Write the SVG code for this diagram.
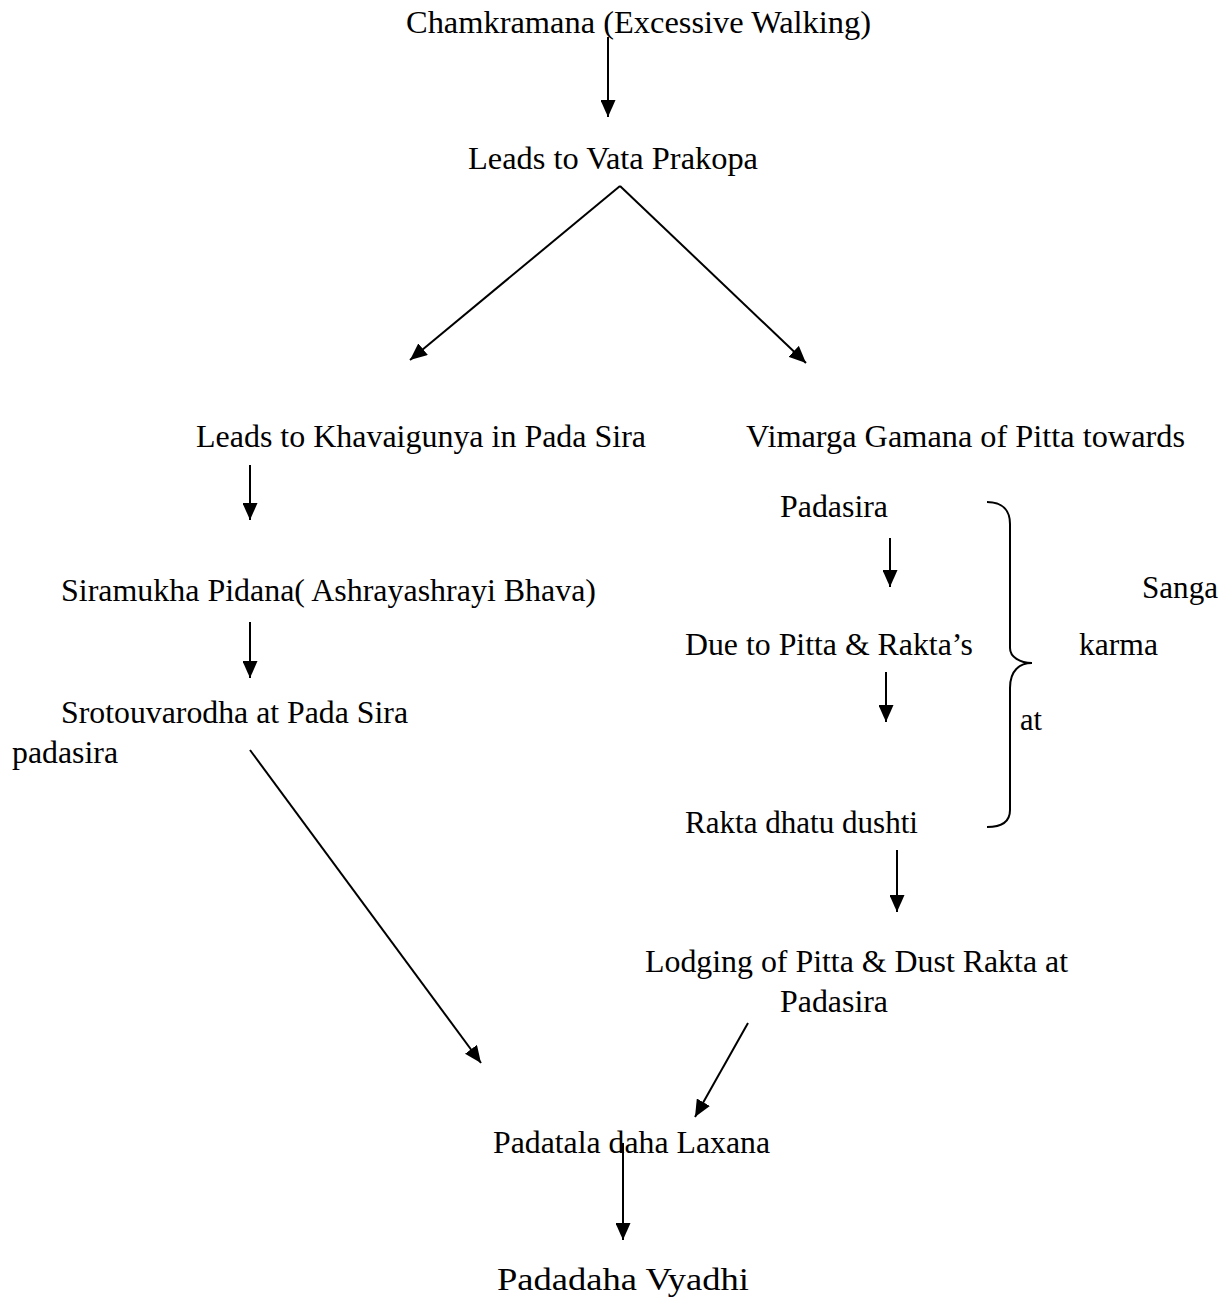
<svg xmlns="http://www.w3.org/2000/svg" width="1228" height="1301" viewBox="0 0 1228 1301">
<defs>
<style>
text{font-family:"Liberation Serif","Times New Roman",serif;font-size:32px;fill:#000}
.c{stroke:#000;stroke-width:2;fill:none}
.a{marker-end:url(#ah)}
</style>
<marker id="ah" markerUnits="userSpaceOnUse" markerWidth="17" markerHeight="15" refX="17" refY="7.5" orient="auto" viewBox="0 0 17 15">
<path d="M0,0 L17,7.5 L0,15 z" fill="#000"/>
</marker>
</defs>
<rect width="1228" height="1301" fill="#fff"/>
<g id="connectors">
<line class="c a" x1="608" y1="37" x2="608" y2="117"/>
<line class="c a" x1="620" y1="186" x2="410" y2="360"/>
<line class="c a" x1="620" y1="186" x2="806" y2="363"/>
<line class="c a" x1="250" y1="465" x2="250" y2="520"/>
<line class="c a" x1="250" y1="622" x2="250" y2="678"/>
<line class="c a" x1="890" y1="538" x2="890" y2="587"/>
<line class="c a" x1="886" y1="672" x2="886" y2="722"/>
<line class="c a" x1="250" y1="750" x2="481" y2="1063"/>
<line class="c a" x1="897" y1="850" x2="897" y2="912"/>
<line class="c a" x1="748" y1="1023" x2="695" y2="1117"/>
<line class="c a" x1="623" y1="1143" x2="623" y2="1240"/>
<path class="c" d="M987,502 C1002,502 1010,510 1010,524 L1010,648 C1010,657 1020,663 1032,663 C1020,663 1010,670 1010,688 L1010,810 C1010,821 1002,827 987,827"/>
</g>
<g id="n1"><text x="406" y="33" textLength="465" lengthAdjust="spacingAndGlyphs">Chamkramana (Excessive Walking)</text></g>
<g id="n2"><text x="468" y="169" textLength="290" lengthAdjust="spacingAndGlyphs">Leads to Vata Prakopa</text></g>
<g id="n3"><text x="196" y="447" textLength="450" lengthAdjust="spacingAndGlyphs">Leads to Khavaigunya in Pada Sira</text></g>
<g id="n4"><text x="746" y="447" textLength="439" lengthAdjust="spacingAndGlyphs">Vimarga Gamana of Pitta towards</text></g>
<g id="n5"><text x="780" y="517" textLength="108" lengthAdjust="spacingAndGlyphs">Padasira</text></g>
<g id="n6"><text x="61" y="601" textLength="535" lengthAdjust="spacingAndGlyphs">Siramukha Pidana( Ashrayashrayi Bhava)</text></g>
<g id="n7"><text x="1142" y="598" textLength="76" lengthAdjust="spacingAndGlyphs">Sanga</text></g>
<g id="n8"><text x="685" y="655" textLength="288" lengthAdjust="spacingAndGlyphs">Due to Pitta &amp; Rakta’s</text></g>
<g id="n9"><text x="1079" y="655" textLength="79" lengthAdjust="spacingAndGlyphs">karma</text></g>
<g id="n10"><text x="61" y="723" textLength="347" lengthAdjust="spacingAndGlyphs">Srotouvarodha at Pada Sira</text></g>
<g id="n11"><text x="1020" y="730" textLength="22" lengthAdjust="spacingAndGlyphs">at</text></g>
<g id="n12"><text x="12" y="763" textLength="106" lengthAdjust="spacingAndGlyphs">padasira</text></g>
<g id="n13"><text x="685" y="833" textLength="233" lengthAdjust="spacingAndGlyphs">Rakta dhatu dushti</text></g>
<g id="n14"><text x="645" y="972" textLength="423" lengthAdjust="spacingAndGlyphs">Lodging of Pitta &amp; Dust Rakta at</text><text x="780" y="1012" textLength="108" lengthAdjust="spacingAndGlyphs">Padasira</text></g>
<g id="n15"><text x="493" y="1153" textLength="277" lengthAdjust="spacingAndGlyphs">Padatala daha Laxana</text></g>
<g id="n16"><text x="497" y="1290" textLength="252" lengthAdjust="spacingAndGlyphs">Padadaha Vyadhi</text></g>
</svg>
